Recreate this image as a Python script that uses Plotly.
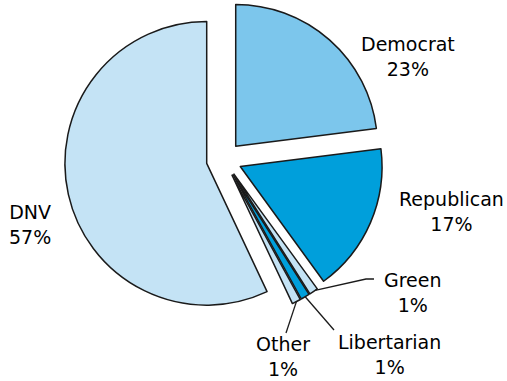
import math
import plotly.graph_objects as go

# Party affiliation shares (percent)
labels = ["Democrat", "Republican", "Green", "Libertarian", "Other", "DNV"]
shares = [23, 17, 1, 1, 1, 57]
colors = ["#7cc6ec", "#009fdb", "#c4e3f5", "#009fdb", "#c4e3f5", "#c4e3f5"]

W, H = 507, 381
PULL = 0.125
DOM_X = [63 / W, 385 / W]
DOM_Y = [1 - 319 / H, 1.0]

# Pie geometry the way plotly lays it out with zero margins
cx = W * (DOM_X[0] + DOM_X[1]) / 2
cy = H * (1 - DOM_Y[0]) - H * (DOM_Y[1] - DOM_Y[0]) / 2
r = min(W * (DOM_X[1] - DOM_X[0]), H * (DOM_Y[1] - DOM_Y[0])) / 2 / (1 + PULL)
total = sum(shares)


def unit(deg):
    a = math.radians(deg)
    return math.sin(a), -math.cos(a)


def rim_point(i, t=0.5):
    """Pixel point on the outer arc of slice i (t: 0 start edge .. 1 end edge)."""
    a0 = sum(shares[:i]) / total * 360
    a1 = a0 + shares[i] / total * 360
    ux, uy = unit((a0 + a1) / 2)
    ox, oy = cx + PULL * r * ux, cy + PULL * r * uy
    vx, vy = unit(a0 + t * (a1 - a0))
    return ox + r * vx, oy + r * vy


def to_paper(px, py):
    return px / W, 1 - py / H


fig = go.Figure(go.Pie(
    labels=labels,
    values=shares,
    sort=False,
    direction="clockwise",
    rotation=0,
    pull=[PULL] * len(shares),
    marker=dict(colors=colors, line=dict(color="#1a1a1a", width=1.5)),
    textinfo="none",
    hoverinfo="label+percent",
    domain=dict(x=DOM_X, y=DOM_Y),
    showlegend=False,
))

# Label blocks: (slice index, centre x, centre y) in pixels
label_pos = [
    (0, 408, 57),
    (1, 451, 211),
    (2, 413, 292),
    (3, 389, 354),
    (4, 283, 356),
    (5, 30, 224),
]
font = dict(family="DejaVu Sans", size=19, color="#000000")
for i, lx, ly in label_pos:
    x, y = to_paper(lx, ly)
    fig.add_annotation(
        x=x, y=y, xref="paper", yref="paper",
        text=f"{labels[i]}<br>{round(shares[i] / total * 100)}%",
        showarrow=False, font=font, xanchor="center", yanchor="middle",
        align="center",
    )

# Leader lines for the thin slices
leaders = [
    (2, 0.3, [(366, 279), (374, 279)]),
    (3, 0.5, [(334, 330)]),
    (4, 0.5, [(286, 333)]),
]
for i, t, pts in leaders:
    sx, sy = rim_point(i, t)
    path = [to_paper(sx, sy)] + [to_paper(px, py) for px, py in pts]
    d = "M " + " L ".join(f"{x:.5f},{y:.5f}" for x, y in path)
    fig.add_shape(type="path", path=d, xref="paper", yref="paper",
                  line=dict(color="#1a1a1a", width=1.3))

fig.update_layout(
    width=W, height=H,
    margin=dict(l=0, r=0, t=0, b=0),
    paper_bgcolor="white",
    plot_bgcolor="white",
)

fig.write_html("out.html")
